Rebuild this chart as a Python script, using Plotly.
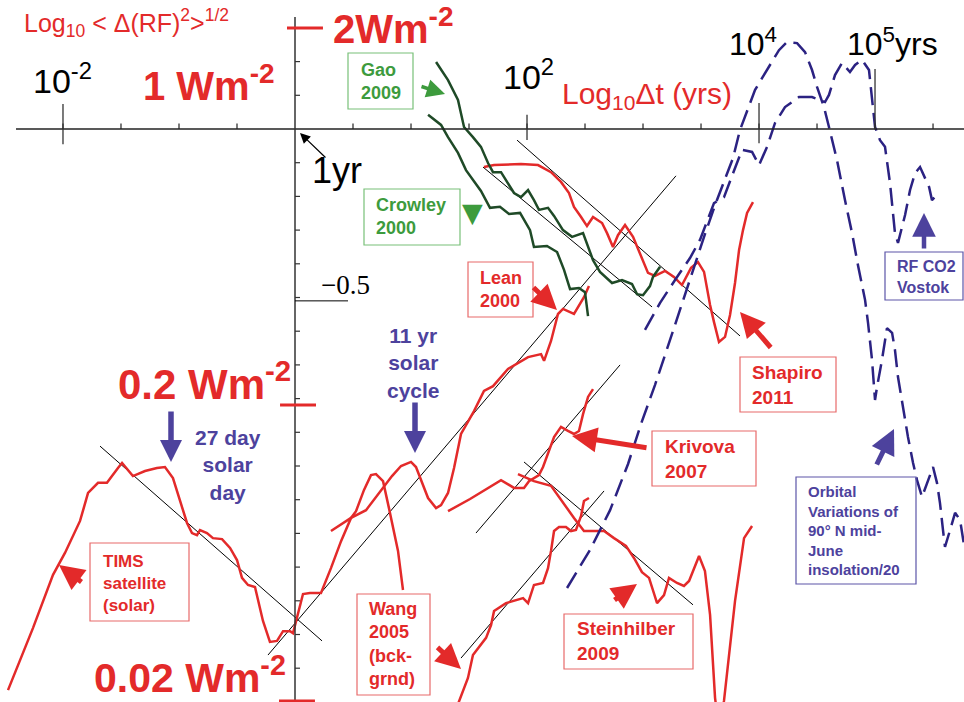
import plotly.graph_objects as go

# ---------------- data (x = log10 Δt [yrs], y = log10 RF fluctuation, axis origin at 1 yr, 1 Wm-2) ----------
tims_x = [-2.474, -2.431, -2.259, -2.086, -1.983, -1.853, -1.784, -1.698, -1.621, -1.526, -1.491, -1.397, -1.293,
          -1.190, -1.121, -1.052, -0.991, -0.931, -0.888, -0.845, -0.819, -0.759, -0.707, -0.629, -0.560, -0.500,
          -0.457, -0.405, -0.345, -0.319, -0.276, -0.216, -0.155, -0.103, -0.043, -0.017, 0.017, 0.069, 0.129,
          0.224, 0.310, 0.397, 0.483, 0.526, 0.595, 0.655, 0.698, 0.759, 0.810, 0.888, 0.931]
tims_y = [-1.665, -1.629, -1.481, -1.323, -1.258, -1.163, -1.080, -1.050, -1.050, -1.006, -0.991, -1.030, -1.015,
          -1.006, -1.003, -1.036, -1.104, -1.169, -1.199, -1.205, -1.190, -1.199, -1.214, -1.217, -1.243, -1.279,
          -1.332, -1.353, -1.359, -1.401, -1.460, -1.522, -1.519, -1.490, -1.490, -1.496, -1.451, -1.380, -1.377,
          -1.377, -1.303, -1.223, -1.154, -1.134, -1.071, -1.027, -1.024, -1.045, -1.125, -1.252, -1.368]

lean_x = [0.310, 0.483, 0.612, 0.733, 0.836, 0.914, 1.000, 1.043, 1.095, 1.147, 1.216, 1.259, 1.319, 1.371,
          1.431, 1.543, 1.629, 1.707, 1.836, 2.009, 2.121, 2.147, 2.207, 2.267, 2.310, 2.405, 2.491, 2.534]
lean_y = [-1.193, -1.154, -1.131, -1.077, -1.030, -1.000, -0.988, -1.003, -1.050, -1.095, -1.125, -1.116, -1.080,
          -1.006, -0.905, -0.837, -0.777, -0.763, -0.712, -0.677, -0.668, -0.688, -0.629, -0.549, -0.534, -0.549,
          -0.499, -0.466]

wang_x = [1.379, 1.414, 1.491, 1.534, 1.603, 1.647, 1.690, 1.716, 1.819, 1.966, 2.009, 2.060, 2.138, 2.181,
          2.207, 2.233, 2.276, 2.336, 2.379, 2.422, 2.466, 2.491, 2.534]
wang_y = [-1.730, -1.697, -1.629, -1.561, -1.531, -1.510, -1.472, -1.430, -1.407, -1.392, -1.407, -1.353, -1.347,
          -1.303, -1.252, -1.193, -1.181, -1.181, -1.193, -1.190, -1.148, -1.104, -1.095]

kriv_x = [1.319, 1.509, 1.776, 1.888, 1.974, 2.017, 2.103, 2.138, 2.233, 2.293, 2.353, 2.405, 2.448, 2.483,
          2.526, 2.569]
kriv_y = [-1.134, -1.098, -1.042, -1.065, -1.065, -1.045, -1.027, -1.003, -0.914, -0.884, -0.896, -0.905, -0.896,
          -0.846, -0.795, -0.772]

stein_x = [1.922, 2.060, 2.207, 2.293, 2.405, 2.491, 2.664, 2.750, 2.853, 2.922, 2.991, 3.052, 3.121, 3.181,
           3.224, 3.293, 3.353, 3.397, 3.483, 3.534, 3.578, 3.621, 3.655, 3.698, 3.741, 3.793, 3.871, 3.940]
stein_y = [-1.024, -1.045, -1.059, -1.101, -1.154, -1.193, -1.193, -1.214, -1.237, -1.273, -1.315, -1.332, -1.407,
           -1.383, -1.332, -1.347, -1.356, -1.341, -1.267, -1.312, -1.442, -1.688, -1.783, -1.697, -1.561, -1.401,
           -1.214, -1.178]

shap_x = [1.629, 1.716, 1.948, 2.095, 2.207, 2.293, 2.362, 2.405, 2.466, 2.517, 2.569, 2.647, 2.690, 2.741,
          2.784, 2.845, 2.914, 2.974, 3.043, 3.103, 3.190, 3.267, 3.336, 3.414, 3.474, 3.526, 3.578, 3.612,
          3.655, 3.707, 3.750, 3.793, 3.828, 3.862, 3.897, 3.948]
shap_y = [-0.113, -0.107, -0.104, -0.107, -0.128, -0.157, -0.190, -0.231, -0.261, -0.288, -0.261, -0.279, -0.309,
          -0.350, -0.315, -0.285, -0.320, -0.368, -0.427, -0.436, -0.421, -0.439, -0.463, -0.412, -0.395, -0.424,
          -0.522, -0.573, -0.632, -0.617, -0.552, -0.457, -0.359, -0.300, -0.249, -0.217]

gao_x = [1.216, 1.319, 1.405, 1.457, 1.534, 1.603, 1.664, 1.707, 1.776, 1.836, 1.888, 1.948, 2.009, 2.060,
         2.103, 2.181, 2.233, 2.310, 2.388, 2.483, 2.569, 2.629, 2.733, 2.819, 2.905, 2.948, 3.000, 3.060,
         3.086, 3.147]
gao_y = [0.199, 0.145, 0.086, 0.006, -0.024, -0.053, -0.101, -0.128, -0.128, -0.160, -0.190, -0.202, -0.181,
         -0.211, -0.240, -0.234, -0.258, -0.300, -0.320, -0.309, -0.389, -0.424, -0.457, -0.448, -0.460, -0.490,
         -0.493, -0.466, -0.439, -0.409]

crow_x = [1.147, 1.259, 1.319, 1.405, 1.474, 1.543, 1.603, 1.681, 1.767, 1.845, 1.940, 2.026, 2.060, 2.172,
          2.259, 2.319, 2.371, 2.448, 2.500, 2.526]
crow_y = [0.042, 0.012, -0.024, -0.071, -0.122, -0.157, -0.184, -0.234, -0.231, -0.252, -0.249, -0.300, -0.350,
          -0.347, -0.365, -0.418, -0.475, -0.472, -0.484, -0.555]

orb_x = [2.345, 2.543, 2.716, 2.871, 2.983, 3.103, 3.233, 3.345, 3.448, 3.534, 3.621, 3.707, 3.776, 3.836,
         3.905, 3.966, 4.026, 4.095, 4.172, 4.241, 4.328, 4.397, 4.457, 4.500, 4.560, 4.603, 4.672, 4.741,
         4.802, 4.853, 4.914, 4.940, 4.974, 5.000, 5.017, 5.060, 5.103, 5.147, 5.172, 5.198, 5.241, 5.284,
         5.328, 5.362, 5.405, 5.448, 5.500, 5.534, 5.560, 5.586, 5.603, 5.647, 5.690, 5.733, 5.767]
orb_y = [-1.362, -1.249, -1.131, -0.994, -0.875, -0.760, -0.626, -0.507, -0.404, -0.312, -0.226, -0.151, -0.086,
         -0.003, 0.062, 0.116, 0.151, 0.190, 0.234, 0.258, 0.255, 0.228, 0.175, 0.125, 0.065, 0.006, -0.092,
         -0.211, -0.309, -0.404, -0.507, -0.576, -0.685, -0.804, -0.766, -0.685, -0.591, -0.605, -0.656, -0.736,
         -0.825, -0.914, -0.991, -1.042, -1.092, -1.050, -1.003, -1.050, -1.110, -1.190, -1.240, -1.190, -1.139,
         -1.160, -1.234]

co2_x = [3.017, 3.147, 3.276, 3.405, 3.491, 3.578, 3.612, 3.698, 3.776, 3.853, 3.940, 4.000, 4.069, 4.138,
         4.224, 4.345, 4.457, 4.526, 4.569, 4.603, 4.655, 4.716, 4.784, 4.828, 4.888, 4.948, 5.000, 5.043,
         5.086, 5.129, 5.172, 5.198, 5.259, 5.302, 5.345, 5.388, 5.431, 5.466, 5.491, 5.534]
co2_y = [-0.596, -0.516, -0.448, -0.383, -0.329, -0.246, -0.220, -0.202, -0.131, -0.062, -0.068, -0.107, -0.053,
         0.018, 0.065, 0.095, 0.095, 0.086, 0.080, 0.101, 0.160, 0.196, 0.169, 0.190, 0.205, 0.175, 0.006,
         -0.033, -0.053, -0.160, -0.309, -0.338, -0.255, -0.181, -0.131, -0.113, -0.145, -0.172, -0.211, -0.196]

# straight scaling-fit lines (end points)
fit_tims_x, fit_tims_y = [-1.681, 0.233], [-0.941, -1.519]
fit_rise_x, fit_rise_y = [-0.233, 3.284], [-1.561, -0.139]
fit_wang_x, fit_wang_y = [1.431, 2.664], [-1.570, -1.074]
fit_kriv_x, fit_kriv_y = [1.560, 2.802], [-1.199, -0.700]
fit_stein_x, fit_stein_y = [1.974, 3.431], [-0.988, -1.412]
fit_shap_x, fit_shap_y = [1.914, 3.836], [-0.033, -0.614]
fit_gao_x, fit_gao_y = [1.621, 3.078], [-0.113, -0.528]

# axis ticks
x_minor_ticks = [-2.0, -1.5, -1.0, -0.5, 0.5, 1.0, 1.5, 2.0, 2.5, 3.0, 3.5, 4.0, 4.5, 5.0, 5.5]
y_minor_ticks = [0.3, 0.2, 0.1, -0.1, -0.2, -0.3, -0.4, -0.5, -0.6, -0.7, -0.8, -0.9, -1.0, -1.1, -1.2,
                 -1.3, -1.4, -1.5, -1.6, -1.7]
x_tick_labels = ["10<sup>-2</sup>", "10<sup>2</sup>", "10<sup>4</sup>", "10<sup>5</sup>yrs"]
rf_labels = ["2Wm<sup>-2</sup>", "1 Wm<sup>-2</sup>", "0.2 Wm<sup>-2</sup>", "0.02 Wm<sup>-2</sup>"]

# ---------------- styling ----------------
W, H = 964, 702
X0, X1 = -2.543, 5.767
Y0, Y1 = -1.7003, 0.3828
RED = "#e32a2a"
RED_BOX = "#e86a6a"
GREEN_DARK = "#1f4a27"
GREEN = "#3d9b3d"
GREEN_BOX = "#78c078"
NAVY = "#2b2282"
BLUE = "#4d429d"
BLUE_BOX = "#5c55a8"
FONT = "Liberation Sans, Arial, sans-serif"
DASH = "18px,8px"

fig = go.Figure()


def add_line(x, y, color, width, dash=None):
    fig.add_trace(go.Scatter(x=x, y=y, mode="lines", hoverinfo="skip", showlegend=False,
                             line=dict(color=color, width=width, dash=dash)))


for fx, fy in [(fit_tims_x, fit_tims_y), (fit_rise_x, fit_rise_y), (fit_wang_x, fit_wang_y),
               (fit_kriv_x, fit_kriv_y), (fit_stein_x, fit_stein_y), (fit_shap_x, fit_shap_y),
               (fit_gao_x, fit_gao_y)]:
    add_line(fx, fy, "black", 1)

for cx, cy in [(tims_x, tims_y), (lean_x, lean_y), (wang_x, wang_y), (kriv_x, kriv_y),
               (stein_x, stein_y), (shap_x, shap_y)]:
    add_line(cx, cy, RED, 2.5)

add_line(gao_x, gao_y, GREEN_DARK, 2.5)
add_line(crow_x, crow_y, GREEN_DARK, 2.5)
add_line(orb_x, orb_y, NAVY, 2.5, DASH)
add_line(co2_x, co2_y, NAVY, 2.5, DASH)

shapes = []
# axes
shapes.append(dict(type="line", xref="x", yref="y", x0=-2.405, x1=X1, y0=0, y1=0,
                   line=dict(color="#222222", width=1.5)))
shapes.append(dict(type="line", xref="x", yref="y", x0=0, x1=0, y0=Y0 - 0.02, y1=0.332,
                   line=dict(color="#333333", width=1.5)))
for t in x_minor_ticks:
    shapes.append(dict(type="line", xref="x", yref="y", x0=t, x1=t, y0=0, y1=0.016,
                       line=dict(color="#222222", width=1.2)))
for t, top, bot in [(-2.0, 0.074, -0.045), (2.0, 0.042, -0.033), (4.0, 0.077, -0.042), (5.0, 0.178, 0.0)]:
    shapes.append(dict(type="line", xref="x", yref="y", x0=t, x1=t, y0=bot, y1=top,
                       line=dict(color="#333333", width=1.3)))
for v in y_minor_ticks:
    shapes.append(dict(type="line", xref="x", yref="y", x0=0, x1=0.043, y0=v, y1=v,
                       line=dict(color="#333333", width=1.2)))
for v, a, b in [(0.300, -0.069, 0.241), (-0.819, -0.129, 0.181), (-1.697, -0.138, 0.172)]:
    shapes.append(dict(type="line", xref="x", yref="y", x0=a, x1=b, y0=v, y1=v,
                       line=dict(color=RED, width=3)))
shapes.append(dict(type="line", xref="x", yref="y", x0=0, x1=0.457, y0=-0.51, y1=-0.51,
                   line=dict(color="black", width=1)))


def P(px, py):
    return px / W, 1 - py / H


def box(x0, y0, x1, y1, color):
    a, b = P(x0, y1)
    c, d = P(x1, y0)
    shapes.append(dict(type="rect", xref="paper", yref="paper", x0=a, y0=b, x1=c, y1=d,
                       line=dict(color=color, width=1.2), fillcolor="rgba(0,0,0,0)"))


def text(px, py, s, size, color, bold=False, family=FONT, xanchor="left", align="left"):
    x, y = P(px, py)
    fig.add_annotation(xref="paper", yref="paper", x=x, y=y, text=("<b>%s</b>" % s) if bold else s,
                       showarrow=False, xanchor=xanchor, yanchor="middle", align=align,
                       font=dict(size=size, color=color, family=family))


def arrow(hx, hy, tx, ty, color, width, size, head=2):
    x, y = P(hx, hy)
    fig.add_annotation(xref="paper", yref="paper", x=x, y=y, ax=tx - hx, ay=ty - hy,
                       axref="pixel", ayref="pixel", text="", showarrow=True, arrowhead=head,
                       arrowsize=size, arrowwidth=width, arrowcolor=color)


# axis titles & tick labels
text(22, 23, "Log<sub>10</sub> &lt; Δ(RF)<sup>2</sup>&gt;<sup>1/2</sup>", 25, RED)
text(560, 95, "Log<sub>10</sub>Δt (yrs)", 30, RED)
text(31, 78, x_tick_labels[0], 34, "black")
text(501, 74, x_tick_labels[1], 34, "black")
text(727, 42, x_tick_labels[2], 32, "black")
text(845, 42, x_tick_labels[3], 32, "black")
text(310, 170, "1yr", 36, "black")
text(319, 285, "−0.5", 27, "black", family="Liberation Serif, Times New Roman, serif")
text(331, 26, rf_labels[0], 40, RED, bold=True)
text(141, 83, rf_labels[1], 40, RED, bold=True)
text(116, 381, rf_labels[2], 42, RED, bold=True)
text(92, 675, rf_labels[3], 41, RED, bold=True)

# blue free labels
text(228, 465, "27 day<br>solar<br>day", 21, BLUE, bold=True, xanchor="center", align="center")
text(413, 363, "11 yr<br>solar<br>cycle", 21, BLUE, bold=True, xanchor="center", align="center")

# boxed labels
box(348, 53, 413, 109, GREEN_BOX)
text(359, 82, "Gao<br>2009", 18, GREEN, bold=True)
box(364, 189, 460, 245, GREEN_BOX)
text(374, 217, "Crowley<br>2000", 18, GREEN, bold=True)
box(468, 262, 533, 317, RED_BOX)
text(478, 290, "Lean<br>2000", 18, RED, bold=True)
box(740, 357, 836, 412, RED_BOX)
text(750, 385, "Shapiro<br>2011", 19, RED, bold=True)
box(652, 431, 756, 486, RED_BOX)
text(663, 459, "Krivova<br>2007", 19, RED, bold=True)
box(564, 614, 693, 669, RED_BOX)
text(575, 641, "Steinhilber<br>2009", 19, RED, bold=True)
box(357, 594, 430, 695, RED_BOX)
text(367, 644, "Wang<br>2005<br>(bck-<br>grnd)", 18, RED, bold=True)
box(90, 543, 189, 621, RED_BOX)
text(101, 583, "TIMS<br>satellite<br>(solar)", 17, RED, bold=True)
box(885, 252, 963, 300, BLUE_BOX)
text(895, 277, "RF CO2<br>Vostok", 16, BLUE, bold=True)
box(796, 477, 916, 584, BLUE_BOX)
text(806, 530, "Orbital<br>Variations of<br>90° N mid-<br>June<br>insolation/20", 15, BLUE, bold=True)

# arrows
arrow(445, 94, 420, 86, GREEN, 3.5, 1.05)
text(472, 212, "▼", 27, GREEN, xanchor="center", family="DejaVu Sans")
arrow(557, 310, 532, 286, RED, 5, 1.0)
arrow(740, 312, 772, 349, RED, 5, 1.0)
arrow(572, 436, 648, 448, RED, 5, 1.0)
arrow(637, 584, 613, 601, RED, 5, 1.0)
arrow(461, 669, 436, 646, RED, 5, 1.0)
arrow(59, 565, 83, 583, RED, 5, 1.0)
arrow(894, 429, 876, 466, BLUE, 5, 1.0)
arrow(924, 213, 924, 250, BLUE, 4.5, 1.05)
arrow(171, 462, 171, 410, BLUE, 5.5, 0.8)
arrow(415, 453, 415, 401, BLUE, 5.5, 0.8)
arrow(300, 133, 327, 159, "black", 1.2, 1.7)

fig.update_layout(width=W, height=H, margin=dict(l=0, r=0, t=0, b=0),
                  paper_bgcolor="white", plot_bgcolor="white", showlegend=False,
                  xaxis=dict(range=[X0, X1], visible=False, fixedrange=True),
                  yaxis=dict(range=[Y0, Y1], visible=False, fixedrange=True),
                  shapes=shapes)

fig.write_html("out.html", config={"displayModeBar": False, "staticPlot": True},
               post_script="document.body.style.margin='0px';")
